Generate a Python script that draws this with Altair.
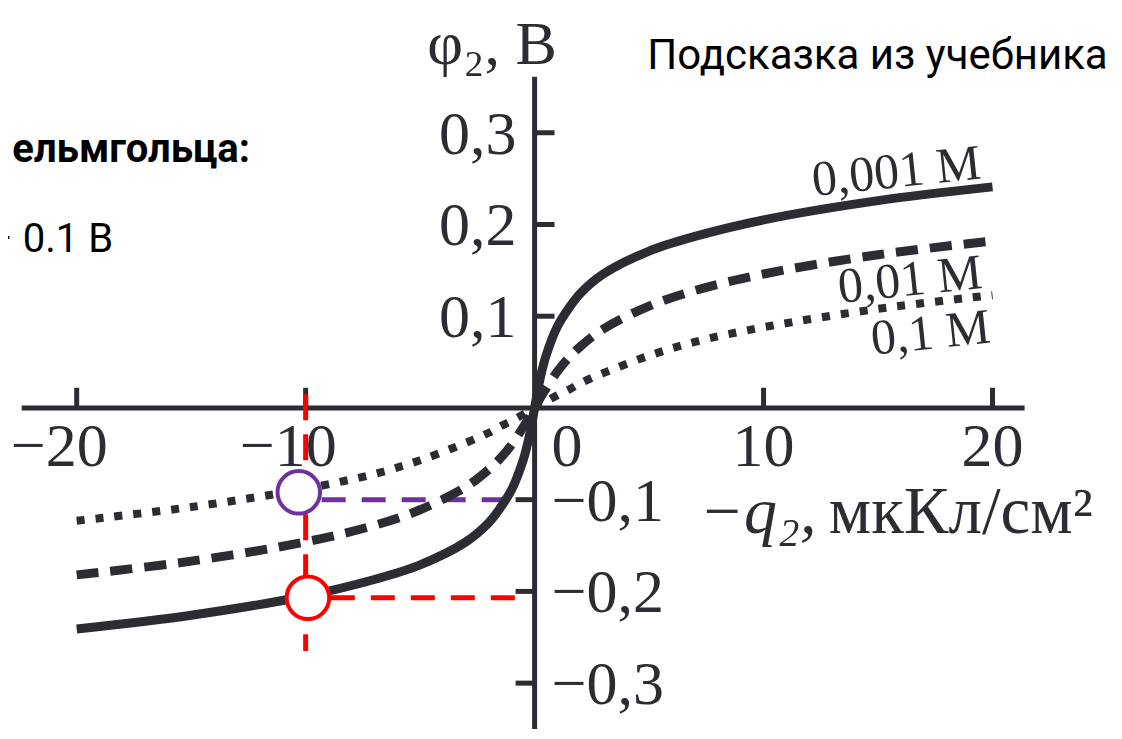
import altair as alt
import pandas as pd

# ---- data ----
q = [-20, -15, -10, -7, -5, -3, -2, -1.5, -1, -0.5, -0.25, -0.1, 0,
     0.1, 0.25, 0.5, 1, 1.5, 2, 3, 5, 7, 10, 15, 20]
phi_0001 = [-0.241, -0.226, -0.205, -0.187, -0.171, -0.146, -0.125, -0.109, -0.089, -0.057, -0.033, -0.014, 0,
            0.014, 0.033, 0.057, 0.089, 0.109, 0.125, 0.146, 0.171, 0.187, 0.205, 0.226, 0.241]
phi_001 = [-0.182, -0.167, -0.146, -0.128, -0.111, -0.086, -0.067, -0.055, -0.040, -0.021, -0.011, -0.004, 0,
           0.004, 0.011, 0.021, 0.040, 0.055, 0.067, 0.086, 0.111, 0.128, 0.146, 0.167, 0.182]
phi_01 = [-0.123, -0.108, -0.088, -0.072, -0.057, -0.038, -0.027, -0.020, -0.014, -0.007, -0.003, -0.001, 0,
          0.001, 0.003, 0.007, 0.014, 0.020, 0.027, 0.038, 0.057, 0.072, 0.088, 0.108, 0.123]

series_labels = ["0,001 М", "0,01 М", "0,1 М"]
label_q = [15.8, 16.4, 17.3]
label_phi = [0.257, 0.139, 0.081]

x_ticks = [-20, -10, 10, 20]
x_tick_labels = ["−20", "−10", "10", "20"]
y_ticks_pos = [0.1, 0.2, 0.3]
y_ticks_pos_labels = ["0,1", "0,2", "0,3"]
y_ticks_neg = [-0.1, -0.2, -0.3]
y_ticks_neg_labels = ["−0,1", "−0,2", "−0,3"]

x_axis_extent = [-22.4, 21.4]
y_axis_extent = [-0.362, 0.361]

# highlighted readings
red_point = [-9.9, -0.207]
purple_point = [-10.3, -0.092]
red_h = [-8.9, -0.75, -0.207]
purple_h = [-9.3, -0.95, -0.1]
red_v = [-10.0, 0.015, -0.265]

INK = "#2b2d33"
SERIF = "Liberation Serif"

X = alt.Scale(domain=[-23, 25], nice=False, zero=False)
Y = alt.Scale(domain=[-0.35, 0.436], nice=False, zero=False)


def xe(f="x"):
    return alt.X(f + ":Q", scale=X, axis=None)


def ye(f="y"):
    return alt.Y(f + ":Q", scale=Y, axis=None)


curves = pd.DataFrame({"x": q * 3,
                       "y": phi_0001 + phi_001 + phi_01,
                       "s": ["a"] * len(q) + ["b"] * len(q) + ["c"] * len(q)})

# axes
axis_h = alt.Chart(pd.DataFrame({"x": [x_axis_extent[0]], "x2": [x_axis_extent[1]], "y": [0]})).mark_rule(
    color=INK, strokeWidth=5).encode(x=xe(), x2="x2:Q", y=ye())
axis_v = alt.Chart(pd.DataFrame({"x": [0], "y": [y_axis_extent[0]], "y2": [y_axis_extent[1]]})).mark_rule(
    color=INK, strokeWidth=5).encode(x=xe(), y=ye(), y2="y2:Q")

xt = pd.DataFrame({"x": x_ticks, "y": [0] * 4, "y2": [0.022] * 4, "t": x_tick_labels})
x_tick_marks = alt.Chart(xt).mark_rule(color=INK, strokeWidth=5).encode(x=xe(), y=ye(), y2="y2:Q")
x_tick_text = alt.Chart(xt).mark_text(align="right", baseline="alphabetic", dx=31, dy=58,
                                      font=SERIF, fontSize=62, color=INK).encode(x=xe(), y=ye(), text="t:N")
zero_text = alt.Chart(pd.DataFrame({"x": [0], "y": [0], "t": ["0"]})).mark_text(
    align="left", baseline="alphabetic", dx=17, dy=58, font=SERIF, fontSize=62, color=INK).encode(
    x=xe(), y=ye(), text="t:N")

ytp = pd.DataFrame({"y": y_ticks_pos, "x": [0] * 3, "x2": [0.87] * 3, "t": y_ticks_pos_labels})
ytn = pd.DataFrame({"y": y_ticks_neg, "x": [-0.83] * 3, "x2": [0] * 3, "t": y_ticks_neg_labels})
y_tick_pos = alt.Chart(ytp).mark_rule(color=INK, strokeWidth=5).encode(x=xe(), x2="x2:Q", y=ye())
y_tick_neg = alt.Chart(ytn).mark_rule(color=INK, strokeWidth=5).encode(x=xe(), x2="x2:Q", y=ye())
y_text_pos = alt.Chart(ytp).mark_text(align="right", baseline="alphabetic", dx=-18, dy=21,
                                      font=SERIF, fontSize=62, color=INK).encode(x=xe(), y=ye(), text="t:N")
y_text_neg = alt.Chart(ytn).mark_text(align="left", baseline="alphabetic", dx=17, dy=21,
                                      font=SERIF, fontSize=62, color=INK).encode(
    x=alt.X("x2:Q", scale=X, axis=None), y=ye(), text="t:N")

# axis titles
y_title = alt.Chart(pd.DataFrame({"x": [-1.86], "y": [0.375], "t": ["φ₂, В"]})).mark_text(
    align="center", baseline="alphabetic", font=SERIF, fontSize=62, color=INK).encode(x=xe(), y=ye(), text="t:N")
x_title_a = alt.Chart(pd.DataFrame({"x": [7.2], "y": [-0.136], "t": ["−q₂,"]})).mark_text(
    align="left", baseline="alphabetic", font=SERIF, fontSize=66, fontStyle="italic", color=INK).encode(
    x=xe(), y=ye(), text="t:N")
x_title_b = alt.Chart(pd.DataFrame({"x": [12.85], "y": [-0.136], "t": ["мкКл/см²"]})).mark_text(
    align="left", baseline="alphabetic", font=SERIF, fontSize=67, color=INK).encode(
    x=xe(), y=ye(), text="t:N")

# curves
base = alt.Chart(curves)
line_a = base.transform_filter("datum.s == 'a'").mark_line(
    color=INK, strokeWidth=9, interpolate="catmull-rom", strokeCap="butt").encode(x=xe(), y=ye(), order="x:Q")
line_b = base.transform_filter("datum.s == 'b'").mark_line(
    color=INK, strokeWidth=9, interpolate="catmull-rom", strokeDash=[22, 12], strokeCap="butt").encode(
    x=xe(), y=ye(), order="x:Q")
line_c = base.transform_filter("datum.s == 'c'").mark_line(
    color=INK, strokeWidth=8, interpolate="catmull-rom", strokeDash=[8, 11], strokeCap="butt").encode(
    x=xe(), y=ye(), order="x:Q")

lab = pd.DataFrame({"x": label_q, "y": label_phi, "t": series_labels})
curve_labels = alt.Chart(lab).mark_text(align="center", baseline="middle", angle=354,
                                        font=SERIF, fontSize=50, color=INK).encode(x=xe(), y=ye(), text="t:N")

# annotations
red_v_line = alt.Chart(pd.DataFrame({"x": [red_v[0]], "y": [red_v[1]], "y2": [red_v[2]]})).mark_rule(
    color="#ff0000", strokeWidth=5, strokeDash=[26, 14]).encode(x=xe(), y=ye(), y2="y2:Q")
red_h_line = alt.Chart(pd.DataFrame({"x": [red_h[0]], "x2": [red_h[1]], "y": [red_h[2]]})).mark_rule(
    color="#ff0000", strokeWidth=5, strokeDash=[24, 16]).encode(x=xe(), x2="x2:Q", y=ye())
purple_h_line = alt.Chart(pd.DataFrame({"x": [purple_h[0]], "x2": [purple_h[1]], "y": [purple_h[2]]})).mark_rule(
    color="#7030a0", strokeWidth=5, strokeDash=[24, 16]).encode(x=xe(), x2="x2:Q", y=ye())
red_circle = alt.Chart(pd.DataFrame({"x": [red_point[0]], "y": [red_point[1]]})).mark_point(
    shape="circle", filled=True, fill="white", stroke="#ff0000", strokeWidth=4, size=1810, opacity=1).encode(
    x=xe(), y=ye())
purple_circle = alt.Chart(pd.DataFrame({"x": [purple_point[0]], "y": [purple_point[1]]})).mark_point(
    shape="circle", filled=True, fill="white", stroke="#7030a0", strokeWidth=4, size=1810, opacity=1).encode(
    x=xe(), y=ye())

# slide text
slide = pd.DataFrame({"x": [25.03], "y": [0.369], "t": ["Подсказка из учебника"]})
hint = alt.Chart(slide).mark_text(align="right", baseline="alphabetic", font="Roboto", fontSize=42,
                                  color="#000000").encode(x=xe(), y=ye(), text="t:N")
frag1 = alt.Chart(pd.DataFrame({"x": [-12.43], "y": [0.268], "t": ["ельмгольца:"]})).mark_text(
    align="right", baseline="alphabetic", font="Roboto", fontSize=40, fontWeight="bold",
    color="#000000").encode(x=xe(), y=ye(), text="t:N")
frag2 = alt.Chart(pd.DataFrame({"x": [-18.41], "y": [0.170], "t": ["– 0.1 В"]})).mark_text(
    align="right", baseline="alphabetic", font="Roboto", fontSize=40, color="#000000").encode(
    x=xe(), y=ye(), text="t:N")

chart = alt.layer(
    axis_h, axis_v, x_tick_marks, y_tick_pos, y_tick_neg,
    red_v_line, red_h_line, purple_h_line,
    line_c, line_b, line_a,
    red_circle, purple_circle,
    x_tick_text, zero_text, y_text_pos, y_text_neg,
    y_title, x_title_a, x_title_b, curve_labels,
    hint, frag1, frag2,
).properties(
    width=1099, height=721, padding=0, autosize=alt.AutoSizeParams(type="none"),
    background="white"
).configure_view(stroke=None)

chart.save("out.html", embed_options={"renderer": "svg", "actions": False})
